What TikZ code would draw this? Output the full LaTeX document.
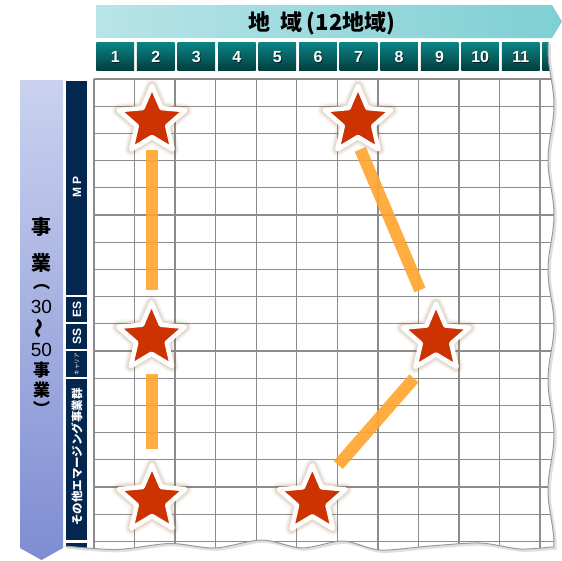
\documentclass[tikz,border=0pt]{standalone}
\usepackage{fontspec}
\setmainfont{Liberation Sans}
\newfontfamily\cjk{Noto Sans CJK JP}
\definecolor{banL}{HTML}{B8E4E8}
\definecolor{banR}{HTML}{7ECFD3}
\definecolor{boxT}{HTML}{0B8585}
\definecolor{boxB}{HTML}{023F40}
\definecolor{navy}{HTML}{03274F}
\definecolor{lavT}{HTML}{CAD2EF}
\definecolor{lavB}{HTML}{7E8DD2}
\definecolor{gridc}{HTML}{8C8C8C}
\definecolor{starred}{HTML}{CC3300}
\definecolor{glow}{HTML}{9A6A3A}
\definecolor{linec}{HTML}{FFA52C}
\begin{document}
\begin{tikzpicture}[x=1pt,y=-1pt,
  gridline/.style={draw=gridc, line width=1.3pt},
  numbox/.style={top color=boxT, bottom color=boxB},
  numtxt/.style={text=white, font=\bfseries\fontsize{16}{16}\selectfont, inner sep=0pt},
  numshadow/.style={text=black, opacity=0.65, font=\bfseries\fontsize{16}{16}\selectfont, inner sep=0pt},
  catbox/.style={fill=navy, draw=white, line width=0.8pt},
  cattxt/.style={text=white, rotate=90, inner sep=0pt},
  conn/.style={draw=linec, line width=12pt, opacity=0.9},
  bigtxt/.style={inner sep=0pt, font=\cjk\bfseries\fontsize{20}{20}\selectfont},
  midtxt/.style={inner sep=0pt, font=\cjk\bfseries\fontsize{17}{17}\selectfont},
  digtxt/.style={inner sep=0pt, font=\fontsize{19}{19}\selectfont},
  waveline/.style={draw=gray!80, line width=1pt},
  bigstar/.pic={
    \foreach \w/\o in {14/0.05, 11/0.08, 8.5/0.12}{
      \path[draw=glow, line width=\w pt, line join=round, opacity=\o]
        (-90:35) -- (-54:16) -- (-18:35) -- (18:16) -- (54:35) -- (90:16)
        -- (126:35) -- (162:16) -- (198:35) -- (234:16) -- cycle;
    }
    \path[fill=starred, draw=white, line width=4.5pt, line join=round]
        (-90:35) -- (-54:16) -- (-18:35) -- (18:16) -- (54:35) -- (90:16)
        -- (126:35) -- (162:16) -- (198:35) -- (234:16) -- cycle;
  }
]
\useasboundingbox (0,0) rectangle (562,560);
\fill[white] (0,0) rectangle (562,560);

% header banner
\shade[left color=banL, right color=banR] (96.4,5) -- (552,5) -- (562,21.5) -- (552,38) -- (96.4,38) -- cycle;
\node[inner sep=0pt, font=\cjk\bfseries\fontsize{22}{22}\selectfont] (title) at (322,23) {地\hspace{0.45em}域\hspace{0.2em}(12地域)};

% left arrow column
\shade[top color=lavT, bottom color=lavB] (20,80) -- (63,80) -- (63,548) -- (41.5,560) -- (20,548) -- cycle;
\node[bigtxt] (j1) at (41.5,227) {事};
\node[bigtxt] (j2) at (41.5,263) {業};
\node[midtxt] (p1) at (41.5,287) {︵};
\node[digtxt] (d30) at (41.5,307) {30};
\node[bigtxt, rotate=90] (tl) at (41.5,328) {～};
\node[digtxt] (d50) at (41.5,350) {50};
\node[midtxt] (j3) at (41.5,370) {事};
\node[midtxt] (j4) at (41.5,390) {業};
\node[midtxt] (p2) at (41.5,408) {︶};

% clipped region
\begin{scope}
\clip (60,40) -- plot[variable=\t, domain=40:547, samples=90] ({551+3*sin((\t-40)*3.2727+237)}, \t)
  -- plot[smooth] coordinates {(551,547) (520,549) (480,543) (430,546) (380,550) (343,541) (302,548) (262,540) (215,548) (170,543.5) (117,549.5) (63,546)}
  -- (60,547) -- cycle;
\foreach \k in {1,...,12}{
  \pgfmathsetmacro\xl{96.4+(\k-1)*40.55}
  \shade[numbox] (\xl,42) rectangle ++(37.6,28);
}
\foreach \k in {1,...,11}{
  \pgfmathsetmacro\xl{96.4+(\k-1)*40.55}
  \node[numshadow] at (\xl+19.6,58) {\k};
  \node[numtxt] (n\k) at (\xl+18.8,57) {\k};
}
% category boxes
\path[catbox] (65.5,80) rectangle (87.5,295.5);
\path[catbox] (65.5,296.5) rectangle (87.5,322.5);
\path[catbox] (65.5,323.5) rectangle (87.5,349.8);
\path[catbox] (65.5,350.8) rectangle (87.5,377.2);
\path[catbox] (65.5,378.2) rectangle (87.5,540.5);
\path[catbox] (65.5,542) rectangle (87.5,570);
\node[cattxt, font=\bfseries\fontsize{12}{12}\selectfont] (mp) at (77,187) {M P};
\node[cattxt, font=\bfseries\fontsize{12}{12}\selectfont] (es) at (77,309.5) {ES};
\node[cattxt, font=\bfseries\fontsize{12}{12}\selectfont] (ss) at (77,336.5) {SS};
\node[cattxt, font=\cjk\fontsize{5.5}{5.5}\selectfont] (car) at (77,364) {キャリア};
\node[cattxt, font=\cjk\bfseries\fontsize{11.5}{11.5}\selectfont] (oth) at (77,457) {その他エマージング事業群};
% grid
\foreach \k in {0,...,11}{
  \draw[gridline] (94+\k*40.55,79) -- (94+\k*40.55,570);
}
\foreach \j in {0,...,17}{
  \draw[gridline] (94,79+\j*27.2) -- (570,79+\j*27.2);
}
\end{scope}

% wavy edges
\draw[draw=gray!25, line width=2.5pt, shift={(1.5,1.5)}] plot[variable=\t, domain=42:547, samples=90] ({551+3*sin((\t-40)*3.2727+237)}, \t)
  -- plot[smooth] coordinates {(551,547) (520,549) (480,543) (430,546) (380,550) (343,541) (302,548) (262,540) (215,548) (170,543.5) (117,549.5) (65,546)};
\draw[waveline] plot[variable=\t, domain=42:547, samples=90] ({551+3*sin((\t-40)*3.2727+237)}, \t)
  -- plot[smooth] coordinates {(551,547) (520,549) (480,543) (430,546) (380,550) (343,541) (302,548) (262,540) (215,548) (170,543.5) (117,549.5) (65,546)};

% connectors
\coordinate (a1) at (152,150);
\coordinate (a2) at (152,290);
\coordinate (b1) at (152,374);
\coordinate (b2) at (152,449);
\coordinate (c1) at (360.3,149.3);
\coordinate (c2) at (420,290);
\coordinate (d1) at (414,378.3);
\coordinate (d2) at (338.3,465);
\draw[conn] (a1) -- (a2);
\draw[conn] (b1) -- (b2);
\draw[conn] (c1) -- (c2);
\draw[conn] (d1) -- (d2);

% stars
\coordinate (s1) at (152,121);
\coordinate (s2) at (358,121);
\coordinate (s3) at (151.5,337.7);
\coordinate (s4) at (436,338.5);
\coordinate (s5) at (152,500);
\coordinate (s6) at (312.3,500.3);
\foreach \s in {s1,s2,s3,s4,s5,s6}{
  \pic at (\s) {bigstar};
}
\end{tikzpicture}
\end{document}
